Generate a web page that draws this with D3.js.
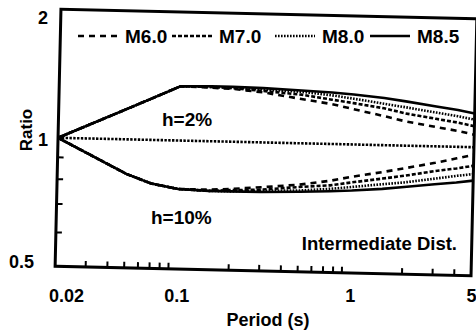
<!DOCTYPE html>
<html>
<head>
<meta charset="utf-8">
<script src="https://cdn.jsdelivr.net/npm/d3@7"></script>
<style>
  body { margin: 0; background: #fff; }
  text { font-family: "Liberation Sans", Arial, sans-serif; font-weight: bold; fill: #000; }
</style>
</head>
<body>
<svg id="chart"></svg>
<script>
// data
const periods = [0.02, 0.05, 0.07, 0.1, 0.15, 0.2, 0.3, 0.5, 0.75, 1, 1.5, 2, 3, 4, 5];
const magnitudes = ["M6.0", "M7.0", "M8.0", "M8.5"];

// h=2% ratios
const h2_M60 = [1, 1.18, 1.255, 1.34, 1.335, 1.33, 1.31, 1.27, 1.24, 1.21, 1.17, 1.14, 1.11, 1.09, 1.07];
const h2_M70 = [1, 1.18, 1.255, 1.34, 1.34, 1.335, 1.32, 1.30, 1.27, 1.25, 1.22, 1.19, 1.16, 1.14, 1.12];
const h2_M80 = [1, 1.18, 1.255, 1.34, 1.34, 1.34, 1.33, 1.32, 1.30, 1.28, 1.25, 1.23, 1.20, 1.18, 1.16];
const h2_M85 = [1, 1.18, 1.255, 1.34, 1.345, 1.345, 1.34, 1.33, 1.32, 1.31, 1.29, 1.27, 1.24, 1.22, 1.20];

// h=10% ratios
const h10_M60 = [1, 0.83, 0.79, 0.77, 0.77, 0.775, 0.785, 0.80, 0.82, 0.84, 0.865, 0.885, 0.915, 0.94, 0.96];
const h10_M70 = [1, 0.83, 0.79, 0.77, 0.765, 0.77, 0.775, 0.79, 0.80, 0.815, 0.835, 0.85, 0.875, 0.89, 0.905];
const h10_M80 = [1, 0.83, 0.79, 0.77, 0.765, 0.765, 0.77, 0.775, 0.785, 0.795, 0.81, 0.82, 0.84, 0.855, 0.865];
const h10_M85 = [1, 0.83, 0.79, 0.77, 0.765, 0.765, 0.765, 0.77, 0.775, 0.78, 0.79, 0.80, 0.815, 0.825, 0.835];

const xTicks = [0.02, 0.1, 1, 5];
const yTicks = [0.5, 1, 2];
const xMinor = [0.03, 0.04, 0.05, 0.06, 0.07, 0.08, 0.09, 0.2, 0.3, 0.4, 0.5, 0.6, 0.7, 0.8, 0.9, 2, 3, 4];
const yMinor = [0.6, 0.7, 0.8, 0.9];

const width = 476, height = 335;
const svg = d3.select("#chart").attr("width", width).attr("height", height);

const pLeft = 58, pRight = 474, pTop = 14, pBottom = 271;

const x = d3.scaleLog().domain([0.02, 5]).range([pLeft, pRight]);
const y = d3.scaleLog().domain([0.5, 2]).range([pBottom, pTop]);

// line styles per magnitude
const dash = { "M6.0": "6,5", "M7.0": "4,2", "M8.0": "1.6,1.4", "M8.5": null };

const series = [
  { m: "M6.0", v: h2_M60 }, { m: "M7.0", v: h2_M70 }, { m: "M8.0", v: h2_M80 }, { m: "M8.5", v: h2_M85 },
  { m: "M6.0", v: h10_M60 }, { m: "M7.0", v: h10_M70 }, { m: "M8.0", v: h10_M80 }, { m: "M8.5", v: h10_M85 }
];

// the scan is slightly rotated, so the plot body is too
const plot = svg.append("g").attr("transform", "rotate(1.3,266,142)");

const line = d3.line().x((d, i) => x(periods[i])).y(d => y(d));

// unity reference line
plot.append("path")
    .attr("d", d3.line()([[x(0.02), y(1)], [x(5), y(1)]]))
    .attr("stroke", "#000").attr("stroke-width", 2.6)
    .attr("stroke-dasharray", "2.4,1.4").attr("fill", "none");

plot.selectAll(".curve")
    .data(series)
    .join("path")
    .attr("class", "curve")
    .attr("d", d => line(d.v))
    .attr("fill", "none")
    .attr("stroke", "#000")
    .attr("stroke-width", 2.6)
    .attr("stroke-dasharray", d => dash[d.m]);

// minor ticks pointing inward
plot.selectAll(".xminor")
    .data(xMinor)
    .join("line")
    .attr("class", "xminor")
    .attr("x1", d => x(d)).attr("x2", d => x(d))
    .attr("y1", pBottom).attr("y2", pBottom - 6)
    .attr("stroke", "#000").attr("stroke-width", 2);

plot.selectAll(".yminor")
    .data(yMinor)
    .join("line")
    .attr("class", "yminor")
    .attr("x1", pLeft).attr("x2", pLeft + 6)
    .attr("y1", d => y(d)).attr("y2", d => y(d))
    .attr("stroke", "#000").attr("stroke-width", 2);

// frame
plot.append("rect")
    .attr("x", pLeft).attr("y", pTop)
    .attr("width", pRight - pLeft).attr("height", pBottom - pTop)
    .attr("fill", "none").attr("stroke", "#000").attr("stroke-width", 3);

// tick labels (not rotated in the scan)
const xAxis = svg.append("g")
    .attr("transform", "translate(-3,289)")
    .call(d3.axisBottom(x).tickValues(xTicks).tickSize(0).tickPadding(0)
        .tickFormat(d => String(d)));
xAxis.select(".domain").remove();
xAxis.selectAll("text").style("font-size", "18px").attr("dy", "0.71em")
    .attr("dx", d => d === 0.02 ? 11 : 0);

const yAxis = svg.append("g")
    .attr("transform", "translate(48,-3)")
    .call(d3.axisLeft(y).tickValues(yTicks).tickSize(0).tickPadding(0)
        .tickFormat(d => String(d)));
yAxis.select(".domain").remove();
yAxis.selectAll("text").style("font-size", "18px")
    .attr("dx", d => d === 0.5 ? -14 : 0)
    .attr("dy", d => d === 2 ? "0.72em" : d === 0.5 ? "-0.05em" : "0.32em");

// axis titles
svg.append("text")
    .attr("x", 268).attr("y", 326)
    .attr("text-anchor", "middle")
    .style("font-size", "18px")
    .text("Period (s)");

svg.append("text")
    .attr("transform", "translate(32,130) rotate(-90)")
    .attr("text-anchor", "middle")
    .style("font-size", "17px")
    .text("Ratio");

// legend
const legendX = [78, 172, 275, 370];
const legend = svg.append("g").attr("transform", "translate(0,36)");
const item = legend.selectAll("g")
    .data(magnitudes)
    .join("g")
    .attr("transform", (d, i) => `translate(${legendX[i]},0)`);
item.append("line")
    .attr("x1", 0).attr("x2", 40)
    .attr("stroke", "#000").attr("stroke-width", 2.6)
    .attr("stroke-dasharray", d => dash[d]);
item.append("text")
    .attr("x", 47).attr("dy", "0.36em")
    .style("font-size", "19px")
    .text(d => d);

// annotations
svg.append("text").attr("x", 162).attr("y", 126).style("font-size", "19px").text("h=2%");
svg.append("text").attr("x", 151).attr("y", 224).style("font-size", "19px").text("h=10%");
svg.append("text").attr("x", 457).attr("y", 250).attr("text-anchor", "end")
    .style("font-size", "18.5px").text("Intermediate Dist.");
</script>
</body>
</html>
